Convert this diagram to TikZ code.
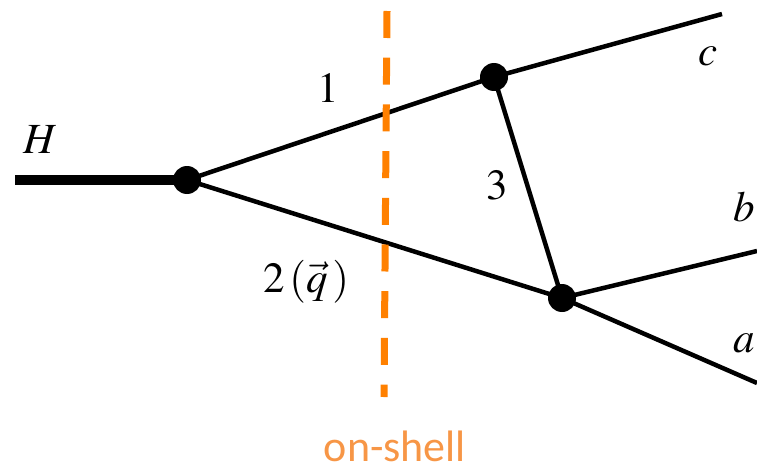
\documentclass[tikz,border=0pt]{standalone}
\usepackage{mathptmx}
\usepackage[no-math]{fontspec}
\newfontfamily\calibri{Carlito}
\definecolor{cutorange}{RGB}{255,128,0}
\definecolor{textorange}{RGB}{247,150,70}
\begin{document}
\begin{tikzpicture}[x=1pt,y=-1pt]
\useasboundingbox (0,0) rectangle (757,468);
\tikzset{
  prop/.style={line width=4.5pt},
  vtx/.style={circle,fill,inner sep=0pt,minimum size=28pt},
  lbl/.style={font=\fontsize{43}{50}\selectfont, inner sep=0pt}
}
\coordinate (h) at (15,180);
\node[vtx] (v1) at (187,180) {};
\node[vtx] (v2) at (494,77) {};
\node[vtx] (v3) at (562,298) {};
\coordinate (c) at (722,14);
\coordinate (b) at (757,251);
\coordinate (a) at (757,383);
\coordinate (cuttop) at (387,11);
\coordinate (cutbot) at (384,397);
\draw[line width=10.5pt] (h) -- (v1.center);
\draw[prop] (v1.center) -- (v2.center) -- (c);
\draw[prop] (v1.center) -- (v3.center) -- (a);
\draw[prop] (v3.center) -- (b);
\draw[prop] (v2.center) -- (v3.center);
\draw[cutorange, line width=7pt, dash pattern=on 27pt off 19.7pt] (cuttop) -- (cutbot);
\node[lbl] (lH) at (41,140) {$H$};
\node[lbl] (l1) at (328,88) {$1$};
\node[lbl] (l3) at (497,185) {$3$};
\node[lbl] (lc) at (708,56) {$c$};
\node[lbl] (lb) at (744,207) {$b$};
\node[lbl] (la) at (744,343) {$a$};
\node[lbl] (l2) at (306,282) {$2\,(\vec{q}\,)$};
\node[font=\calibri\fontsize{44}{50}\selectfont, text=textorange, inner sep=0pt, text depth=0pt, anchor=base] (ons) at (395,461) {on-shell};
\end{tikzpicture}
\end{document}
